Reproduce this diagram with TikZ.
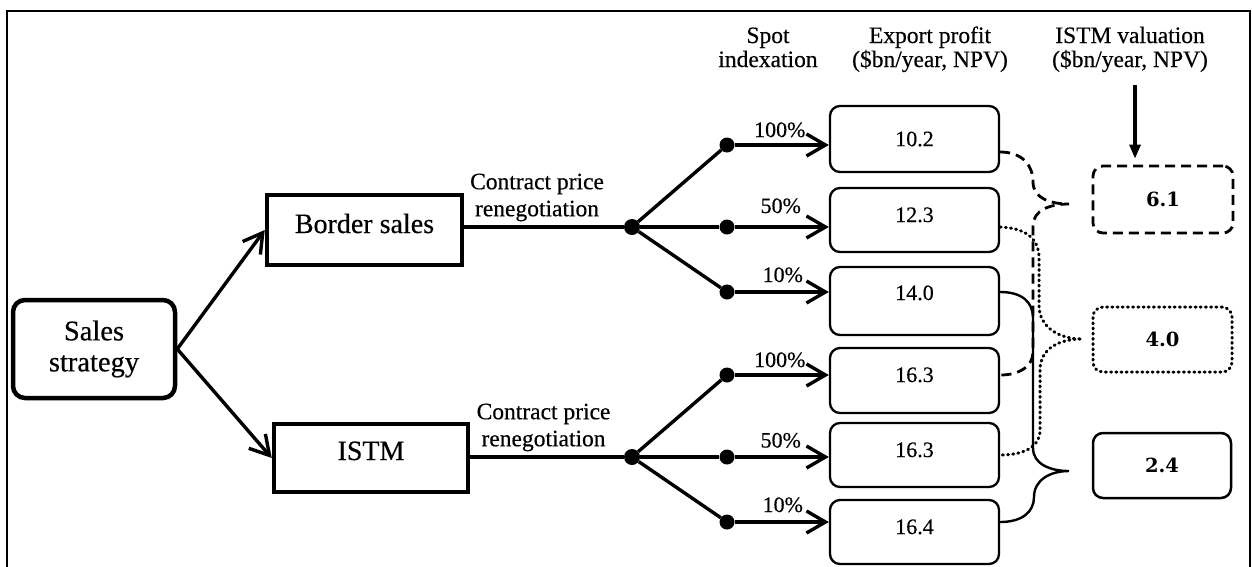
\documentclass[tikz,border=0pt]{standalone}
\usepackage{fontspec}
\setmainfont{Liberation Serif}[UprightFeatures={FakeBold=0.4}]
\newfontfamily\numfont{DejaVu Serif}
\usetikzlibrary{arrows.meta}
\begin{document}
\begin{tikzpicture}[x=1pt,y=-1pt,
  mainbox/.style={draw, line width=4.5pt, align=center, inner sep=0pt,
    font=\fontsize{28}{31}\selectfont},
  ebox/.style={draw, line width=2.3pt, rounded corners=10pt, minimum width=169pt,
    minimum height=65pt, inner sep=0pt, font=\fontsize{22}{26}\selectfont},
  vbox/.style={draw, line width=2.5pt, rounded corners=10pt, minimum width=139pt,
    minimum height=66pt, inner sep=0pt, font=\numfont\bfseries\fontsize{19.5}{22}\selectfont},
  dot/.style={circle, fill=black, inner sep=0pt, minimum size=15pt},
  conn/.style={line width=3.4pt},
  arr/.style={conn, -{Straight Barb[length=19pt,width=22pt]}},
  head/.style={font=\fontsize{23.5}{24}\selectfont, align=center, inner sep=0pt, anchor=base},
  clabel/.style={font=\fontsize{23.5}{27}\selectfont, align=center, inner sep=0pt},
  pct/.style={font=\fontsize{22}{26}\selectfont, inner sep=0pt, anchor=base},
  dashedline/.style={line width=2.8pt, dash pattern=on 10pt off 6pt},
  dottedline/.style={line width=3pt, line cap=round, dash pattern=on 1pt off 4.2pt},
  solidline/.style={line width=2.4pt}
]
\useasboundingbox (0,0) rectangle (1252,566);
\clip (0,0) rectangle (1252,566);
\draw[line width=2.2pt] (7,11) rectangle (1250,600);

% main boxes
\node[mainbox, rounded corners=12pt, minimum width=162pt, minimum height=98pt,
  font=\fontsize{28.5}{31}\selectfont] (ss) at (94,349) {Sales\\strategy};
\node[mainbox, minimum width=195pt, minimum height=70pt, text height=14pt, text depth=8pt]
  (bs) at (364.5,230) {Border sales};
\node[mainbox, minimum width=194pt, minimum height=68pt, text height=14pt, text depth=10pt]
  (istm) at (371,458) {ISTM};

\draw[arr] (ss.east) -- (bs.west);
\draw[arr] (ss.east) -- (istm.west);

% headers
\node[head] (hs) at (768,67) {Spot\\indexation};
\node[head] (he) at (930,67) {Export profit\\(\$bn/year, NPV)};
\node[head] (hv) at (1130,67) {ISTM valuation\\(\$bn/year, NPV)};

% export boxes
\node[ebox, minimum height=66pt] (e1) at (914.5,139) {10.2};
\node[ebox, minimum height=64pt, text height=15pt, text depth=11pt] (e2) at (914.5,220) {12.3};
\node[ebox, minimum height=68pt, text height=15pt, text depth=17pt] (e3) at (914.5,301) {14.0};
\node[ebox, minimum height=65pt, text height=15pt, text depth=12pt] (e4) at (914.5,380.5) {16.3};
\node[ebox, minimum height=64pt, text height=15pt, text depth=11pt] (e5) at (914.5,455) {16.3};
\node[ebox, minimum height=64pt, text height=15pt, text depth=11pt] (e6) at (914.5,532) {16.4};

% valuation boxes
\node[vbox, dashedline, minimum width=140pt, minimum height=67pt] (v1) at (1163,199.5) {6.1};
\node[vbox, dottedline, minimum height=65pt] (v2) at (1162.5,339.5) {4.0};
\node[vbox, minimum width=138pt, minimum height=65pt] (v3) at (1162,465.5) {2.4};

% tree dots
\node[dot, minimum size=16pt] (r1) at (632,227) {};
\node[dot] (d11) at (727,145) {};
\node[dot] (d12) at (727,227) {};
\node[dot] (d13) at (727,292) {};
\node[dot, minimum size=16pt] (r2) at (632,457) {};
\node[dot] (d21) at (727,375) {};
\node[dot] (d22) at (727,457) {};
\node[dot] (d23) at (727,522) {};

\draw[conn] (r1 -| bs.east) -- node[clabel, above=4pt, xshift=-7pt] {Contract price\\renegotiation} (r1);
\draw[conn] (r2 -| istm.east) -- node[clabel, above=4pt, xshift=-3.5pt] {Contract price\\renegotiation} (r2);

\draw[conn] (r1) -- (d11);
\draw[conn] (r1) -- (d12);
\draw[conn] (r1) -- (d13);
\draw[conn] (r2) -- (d21);
\draw[conn] (r2) -- (d22);
\draw[conn] (r2) -- (d23);

\draw[arr] (d11) -- node[pct, yshift=8pt, xshift=-2pt] {100\%} (d11 -| e1.west);
\draw[arr] (d12) -- node[pct, yshift=14pt, xshift=-1pt] {50\%} (d12 -| e2.west);
\draw[arr] (d13) -- node[pct, yshift=10pt, xshift=1pt] {10\%} (d13 -| e3.west);
\draw[arr] (d21) -- node[pct, yshift=8pt, xshift=-2pt] {100\%} (d21 -| e4.west);
\draw[arr] (d22) -- node[pct, yshift=9.5pt, xshift=-1pt] {50\%} (d22 -| e5.west);
\draw[arr] (d23) -- node[pct, yshift=10pt, xshift=1pt] {10\%} (d23 -| e6.west);

% arrow into valuation
\draw[line width=3.2pt, -{Triangle[length=14pt,width=11pt]}, shorten <=13pt, shorten >=6pt]
  ([xshift=5pt]hv.south) -- ([xshift=5pt]hv.south |- v1.north);

% brace tips
\coordinate (t1) at (1069,204);
\coordinate (t2) at (1082,339);
\coordinate (t3) at (1069,471);

% dashed brace (6.1)
\draw[dashedline] ([yshift=-13pt]e1.east) .. controls (1022,152) and (1033,165) .. (1033,182)
  .. controls (1033,198) and (1050,204) .. (t1)
  .. controls (1050,204) and (1033,210) .. (1033,226)
  -- (1033,352) .. controls (1033,366) and (1020,375) .. ([yshift=5.5pt]e4.east);

% dotted brace (4.0)
\draw[dottedline] ([yshift=-7pt]e2.east) .. controls (1025,228) and (1039,238) .. (1039,258)
  -- (1039,305) .. controls (1039,328) and (1060,339) .. (t2)
  .. controls (1060,339) and (1040,348) .. (1040,370)
  -- (1040,430) .. controls (1040,448) and (1022,455) .. (e5.east);

% solid brace (2.4)
\draw[solidline] ([yshift=9pt]e3.east) .. controls (1022,292) and (1033,302) .. (1033,318)
  -- (1033,448) .. controls (1033,464) and (1050,471) .. (t3)
  .. controls (1050,471) and (1034,480) .. (1034,497)
  .. controls (1034,512) and (1022,522) .. ([yshift=10pt]e6.east);
\end{tikzpicture}
\end{document}
